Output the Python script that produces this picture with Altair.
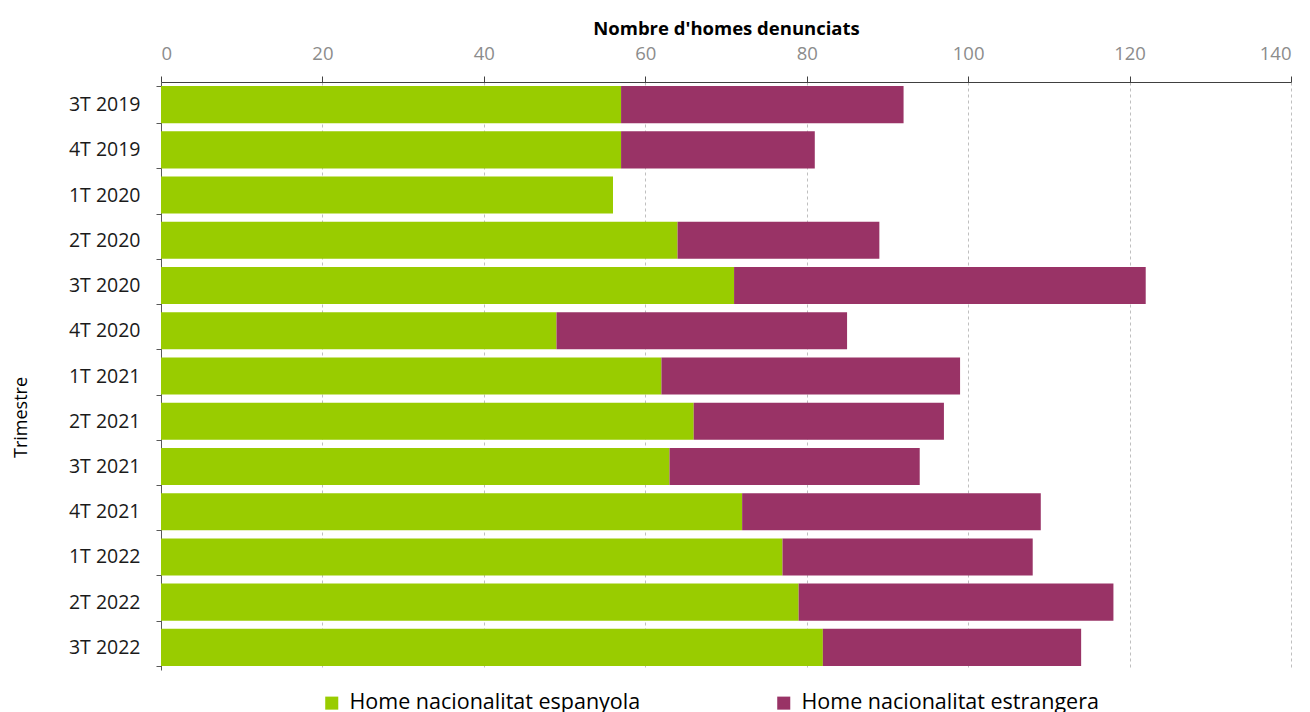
import altair as alt
import pandas as pd

trimestres = ["3T 2019", "4T 2019", "1T 2020", "2T 2020", "3T 2020", "4T 2020",
              "1T 2021", "2T 2021", "3T 2021", "4T 2021", "1T 2022", "2T 2022", "3T 2022"]
espanyola = [57, 57, 56, 64, 71, 49, 62, 66, 63, 72, 77, 79, 82]
estrangera = [35, 24, 0, 25, 51, 36, 37, 31, 31, 37, 31, 39, 32]
series = ["Home nacionalitat espanyola", "Home nacionalitat estrangera"]
colors = ["#99CC00", "#993366"]

rows = []
for t, a, b in zip(trimestres, espanyola, estrangera):
    rows.append({"Trimestre": t, "Serie": series[0], "Valor": a, "ord": 0})
    rows.append({"Trimestre": t, "Serie": series[1], "Valor": b, "ord": 1})
df = pd.DataFrame(rows)

FONT = "Open Sans"

chart = alt.Chart(df).mark_bar().encode(
    y=alt.Y("Trimestre:N", sort=trimestres,
            scale=alt.Scale(paddingInner=0.18, paddingOuter=0.09),
            axis=alt.Axis(title="Trimestre", titleFont=FONT, titleFontSize=18,
                          titleFontWeight="normal", titleColor="#000000",
                          titleX=-131, titleY=335,
                          labelFont=FONT, labelFontSize=19.5, labelColor="#1a1a1a",
                          labelPadding=16, tickBand="extent", tickSize=5,
                          tickColor="#595959", domainColor="#595959", grid=False)),
    x=alt.X("Valor:Q", stack="zero",
            scale=alt.Scale(domain=[0, 140], nice=False),
            axis=alt.Axis(orient="top", values=list(range(0, 141, 20)),
                          title="Nombre d'homes denunciats", titleFont=FONT,
                          titleFontSize=18.5, titleFontWeight="bold", titleColor="#000000",
                          titlePadding=6,
                          labelFont=FONT, labelFontSize=18.5, labelColor="#8c8c8c",
                          labelPadding=13, tickSize=6, tickColor="#404040",
                          domainColor="#404040", grid=True, gridColor="#BFBFBF",
                          gridDash=[3, 3], gridWidth=1)),
    color=alt.Color("Serie:N", scale=alt.Scale(domain=series, range=colors),
                    legend=alt.Legend(title=None, orient="none", direction="horizontal",
                                      legendX=160, legendY=610,
                                      symbolType="square", symbolSize=170,
                                      symbolStrokeWidth=0, symbolOffset=0,
                                      labelFont=FONT, labelFontSize=21.5,
                                      labelColor="#000000", labelLimit=400,
                                      labelOffset=7, columnPadding=132)),
    order=alt.Order("ord:Q"),
).properties(
    width=1130, height=588,
    autosize=alt.AutoSizeParams(type="none"),
    padding={"left": 153, "top": 74, "right": 10, "bottom": 44},
).configure_view(stroke=None)

chart.save("out.html", embed_options={"renderer": "svg", "actions": False})
